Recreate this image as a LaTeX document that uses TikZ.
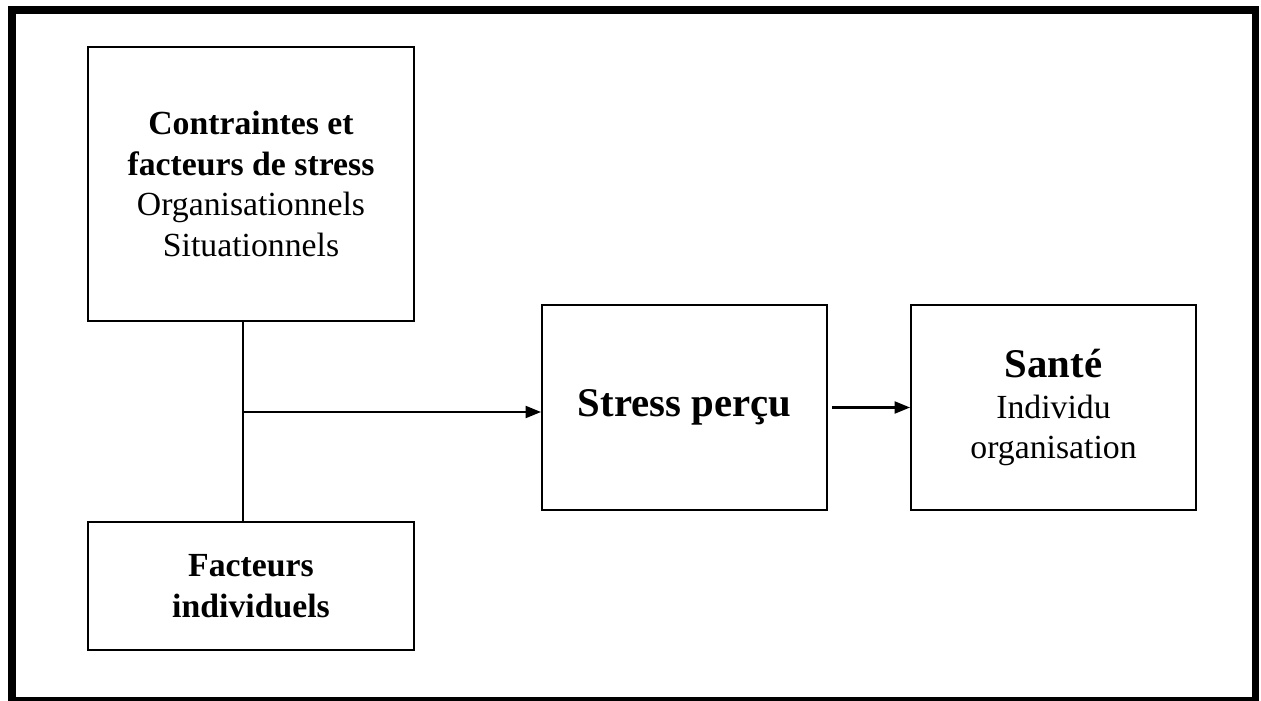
\documentclass[tikz,border=0pt]{standalone}
\usepackage{fontspec}
\setmainfont{Liberation Serif}
\usepackage{tikz}
\usetikzlibrary{arrows.meta, calc}

\begin{document}
\begin{tikzpicture}[
    x = 0.025cm, y = -0.025cm,
    line width = 1.3pt,
    >={Triangle[length = 11pt, width = 8.5pt]},
    block/.style = {draw,
      align = center,
      inner sep = 0pt,
      font = \fontsize{24}{29}\selectfont},
    wide/.style = {block,
      minimum width = 8.15cm},
    square/.style = {block,
      minimum width = 7.125cm,
      minimum height = 5.125cm},
    link/.style = {line width = 1.6pt}
    ]
    \useasboundingbox (0, 0) rectangle (1261, 701);
    \draw [line width = 5pt] (12, 10) rectangle (1255, 701);

    \node at (251, 184) [wide, minimum height = 6.85cm, name = C]
    {\textbf{Contraintes et}\\ \textbf{facteurs de stress}\\
      Organisationnels\\ Situationnels};
    \node at (251, 586) [wide, minimum height = 3.2cm, name = F]
    {\textbf{Facteurs}\\ \textbf{individuels}};
    \node at (684.5, 407.5) [square, name = P]
    {\fontsize{29}{33}\selectfont\textbf{Stress perçu}};
    \node at (1053.5, 407.5) [square, name = S]
    {{\fontsize{29}{33}\selectfont\textbf{Santé}}\\ Individu\\ organisation};
    \coordinate (j) at (243, 412);

    \draw [link, -] (j |- C.south) to (j |- F.north);
    \draw [link, ->] (j) to (P.west |- j);
    \draw [link, ->] ($(P.east) + (4, 0)$) to (S.west);

  \end{tikzpicture}
\end{document}
